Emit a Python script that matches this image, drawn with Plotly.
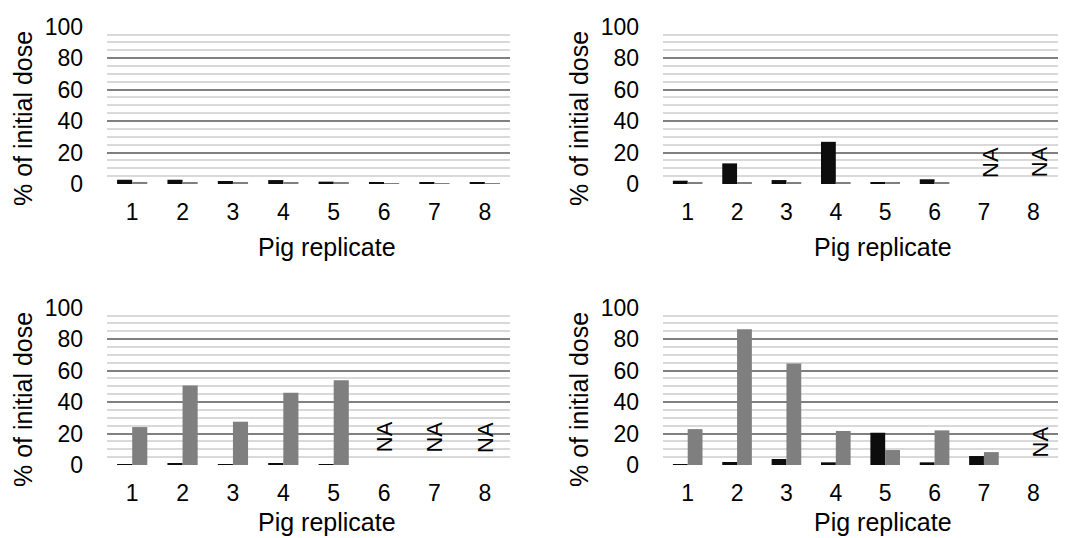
import plotly.graph_objects as go

categories = ["1", "2", "3", "4", "5", "6", "7", "8"]

# panel A (top-left)
a_black = [2.7, 2.7, 1.9, 2.5, 1.5, 1.0, 1.0, 0.8]
a_gray = [1.3, 1.2, 1.0, 1.0, 0.7, 0.6, 0.6, 0.6]
a_na = []
# panel B (top-right)
b_black = [2.1, 13.1, 2.5, 26.8, 1.2, 3.0, None, None]
b_gray = [1.0, 1.1, 1.0, 1.0, 0.8, 1.1, None, None]
b_na = ["7", "8"]
# panel C (bottom-left)
c_black = [0.4, 0.8, 0.4, 0.8, 0.6, None, None, None]
c_gray = [24.1, 50.5, 27.5, 45.9, 53.9, None, None, None]
c_na = ["6", "7", "8"]
# panel D (bottom-right)
d_black = [0.3, 1.9, 3.8, 1.7, 20.5, 1.7, 5.7, None]
d_gray = [22.8, 86.3, 64.5, 21.6, 9.5, 22.0, 8.2, None]
d_na = ["8"]

y_ticks = [0, 20, 40, 60, 80, 100]
x_title = "Pig replicate"
y_title = "% of initial dose"
na_label = "NA"

W, H = 1070, 538
FONT = "Liberation Sans, Arial, sans-serif"
BLACK = "#0d0d0d"
GRAY = "#7f7f7f"

# panel pixel boxes: (left, right, top, bottom)
panels = [
    (107, 510, 26, 184, a_black, a_gray, a_na, 0, 14.0),
    (663, 1058, 26, 184, b_black, b_gray, b_na, 7, 14.0),
    (107, 510, 307, 465, c_black, c_gray, c_na, 0, 17.7),
    (663, 1058, 307, 465, d_black, d_gray, d_na, 7, 14.5),
]

fig = go.Figure()
annotations = []
for i, (l, r, t, b, blk, gry, na, nashift, nay) in enumerate(panels):
    n = i + 1
    xa = "x" if n == 1 else f"x{n}"
    ya = "y" if n == 1 else f"y{n}"
    fig.add_trace(go.Bar(x=categories, y=blk, marker=dict(color=BLACK, line=dict(width=0)),
                         xaxis=xa, yaxis=ya, showlegend=False))
    fig.add_trace(go.Bar(x=categories, y=gry, marker=dict(color=GRAY, line=dict(width=0)),
                         xaxis=xa, yaxis=ya, showlegend=False))
    xkey = "xaxis" if n == 1 else f"xaxis{n}"
    ykey = "yaxis" if n == 1 else f"yaxis{n}"
    fig.layout[xkey] = dict(
        domain=[l / W, r / W], anchor=ya, type="category",
        categoryorder="array", categoryarray=categories,
        range=[-0.5, len(categories) - 0.5], automargin=False,
        showgrid=False, showline=False, zeroline=False,
        ticks="", ticklabelstandoff=12,
        tickfont=dict(family=FONT, size=23, color="#000"),
    )
    fig.layout[ykey] = dict(
        domain=[1 - b / H, 1 - t / H], anchor="free", position=(l - 24) / W,
        range=[0, 100.4], automargin=False,
        tickvals=y_ticks, showgrid=True, gridcolor="#808080", gridwidth=1.5,
        zeroline=False, showline=False,
        minor=dict(dtick=5, tick0=0, showgrid=True, gridcolor="#d9d9d9", gridwidth=1.5),
        ticks="",
        tickfont=dict(family=FONT, size=23, color="#000"),
    )
    # axis titles
    annotations.append(dict(text=x_title, xref="paper", yref="paper",
                            x=(l + 220) / W, y=1 - min(t + 221, 522) / H,
                            xanchor="center", yanchor="middle", showarrow=False,
                            font=dict(family=FONT, size=25, color="#000")))
    annotations.append(dict(text=y_title, xref="paper", yref="paper",
                            x=(l - 84) / W, y=1 - (t + 93) / H, textangle=-90,
                            xanchor="center", yanchor="middle", showarrow=False,
                            font=dict(family=FONT, size=25, color="#000")))
    for c in na:
        annotations.append(dict(text=na_label, xref=xa, yref=ya,
                                x=categories.index(c), y=nay,
                                xshift=nashift, textangle=-90, showarrow=False,
                                xanchor="center", yanchor="middle",
                                font=dict(family=FONT, size=22, color="#000")))

fig.update_layout(
    width=W, height=H, margin=dict(l=0, r=0, t=0, b=0, autoexpand=False),
    paper_bgcolor="white", plot_bgcolor="white",
    barmode="group", bargap=0.4, bargroupgap=0,
    annotations=annotations,
)
fig.write_html("out.html")
